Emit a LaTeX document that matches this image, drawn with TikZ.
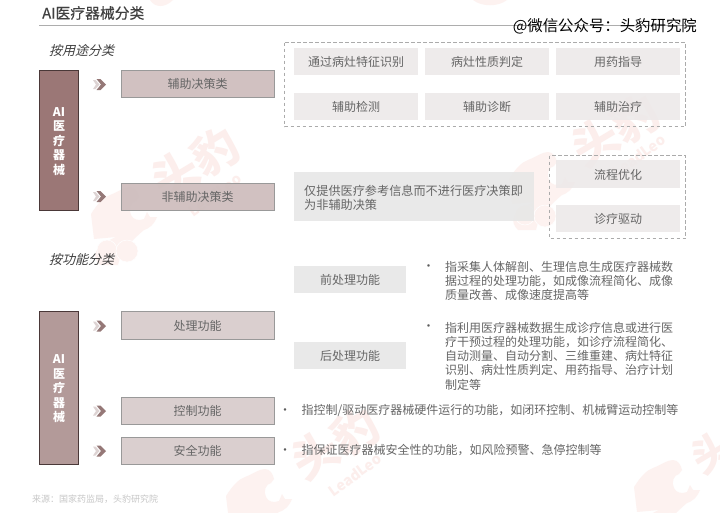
\documentclass[tikz,border=0pt]{standalone}
\usepackage{fontspec}
\setmainfont{Noto Sans CJK SC}
\newfontfamily\cjkslant[FakeSlant=0.25]{Noto Sans CJK SC}
\newfontfamily\cjktitle[FakeBold=0.35]{Noto Sans CJK SC}
\definecolor{txtgrey}{HTML}{666666}
\definecolor{wm}{HTML}{FCEEEC}
\definecolor{wmlight}{HTML}{FDF2F0}
\definecolor{edge}{HTML}{999999}
\definecolor{barA}{HTML}{9B7776}
\definecolor{barB}{HTML}{B39A99}
\definecolor{cfA}{HTML}{CCBBBB}
\definecolor{cfB}{HTML}{D6CACA}
\definecolor{tagfill}{HTML}{EDE9E9}
\definecolor{widefill}{HTML}{E7E7E7}
\definecolor{dashcol}{HTML}{ABABAB}
\definecolor{bardark}{HTML}{4A3838}
\definecolor{chevA}{HTML}{DDD3D3}
\definecolor{chevB}{HTML}{957877}
\tikzset{
  x=1pt,y=-1pt,
  sizedtext/.style={text=txtgrey,inner sep=0pt,font=\fontsize{12}{14.5}\selectfont},
  boxlabel/.style={sizedtext,text height=11pt,text depth=1pt},
  catbox/.style={draw=edge,line width=0.9pt,fill opacity=0.9,text opacity=1,minimum width=153pt,boxlabel},
  catA/.style={catbox,fill=cfA,minimum height=27pt},
  catB/.style={catbox,fill=cfB,minimum height=27pt},
  tagbox/.style={fill=tagfill,fill opacity=0.9,text opacity=1,minimum width=124pt,minimum height=27pt,boxlabel},
  tagwide/.style={fill=widefill,fill opacity=0.9,text opacity=1,minimum width=112pt,minimum height=27pt,boxlabel},
  dashbox/.style={draw=dashcol,line width=0.7pt,dash pattern=on 3.5pt off 2.5pt},
  sidebar/.style={draw=bardark,line width=1pt,minimum width=39pt,text=white,align=center,inner sep=0pt,font=\fontsize{12}{14.5}\selectfont\bfseries},
  desc/.style={sizedtext,anchor=west,align=left},
  bullet/.style={sizedtext,text=txtgrey!90!black,font=\fontsize{12}{14}\selectfont},
  slanthead/.style={inner sep=0pt,text=black!75,font=\fontsize{13}{16}\selectfont\cjkslant},
  wmtext/.style={text=wm,inner sep=0pt,rotate=31,font=\fontsize{46}{46}\selectfont\bfseries},
  wmsub/.style={text=wm,inner sep=0pt,rotate=36,font=\fontsize{14.5}{15}\selectfont\bfseries},
}
% leopard silhouette; #1,#2 is the top of its head
\newcommand{\leoblob}[2]{%
  \begin{scope}[shift={(#1,#2)}]
  \fill[wmlight] (-14,50) -- (-36,52) -- (-39,27) .. controls (-32,16) and (-26,10) .. (-20,8)
     .. controls (-12,5) and (-6,0) .. (0,0) .. controls (5,0) and (8,5) .. (9,10) -- (6,14)
     .. controls (1,15) and (-2,22) .. (1,28) .. controls (3,33) and (9,34) .. (14,32) -- (17,25) -- (20,30) -- (27,30)
     .. controls (24,38) and (18,42) .. (14,43) .. controls (8,48) and (4,52) .. (0,56)
     .. controls (-8,62) and (-10,70) .. (-12,78) -- (-30,78) .. controls (-38,70) and (-38,60) .. (-14,50) -- cycle;
  \draw[white,line width=0.5pt,fill=wmlight] (-23,63) circle (10);
  \draw[white,line width=0.5pt,fill=wmlight] (-3,64) circle (11);
  \end{scope}}
\newcommand{\chevrons}[2]{%
  \fill[chevA,shift={(#1,#2)}] (0,-4.5) -- (2.5,-4.5) -- (6.5,0) -- (2.5,4.5) -- (0,4.5) -- (3,0) -- cycle;
  \fill[chevB,shift={(#1,#2)}] (3.5,-5.5) -- (7.5,-5.5) -- (13,0) -- (7.5,5.5) -- (3.5,5.5) -- (8,0) -- cycle;}
\begin{document}
\begin{tikzpicture}
\useasboundingbox (0,0) rectangle (720,512);
\fill[white] (0,0) rectangle (720,512);
% watermarks
\begin{scope}
\clip (0,0) rectangle (720,512);
\leoblob{130}{187}
\node[wmtext] (wmA) at (195,163) {头豹};
\node[wmsub] (wmAs) at (215,195) {LeadLeo};
\leoblob{548}{152}
\node[wmtext] (wmB) at (615,130) {头豹};
\node[wmsub] (wmBs) at (639,156) {LeadLeo};
\leoblob{265}{469}
\node[wmtext] (wmC) at (335,443) {头豹};
\node[wmsub] (wmCs) at (355,475) {LeadLeo};
\leoblob{673}{460}
\node[wmtext,font=\fontsize{40}{40}\selectfont\bfseries] (wmD) at (712,452) {头};
\fill[wmlight] (150,0) .. controls (155,8) and (165,8) .. (173,0) -- cycle;
\fill[wmlight] (473,0) .. controls (482,7) and (498,7) .. (507,0) -- cycle;
\end{scope}
% title
\node[anchor=west,inner sep=0pt,text=black!75,font=\fontsize{14.8}{17}\selectfont\cjktitle] (title) at (42,13) {AI医疗器械分类};
\coordinate (ruleL) at (39,25.3);
\coordinate (ruleR) at (696,25.3);
\draw[edge!80,line width=0.7pt] (ruleL) -- (ruleR);
\node[anchor=east,inner sep=0pt,text=black,font=\fontsize{15.4}{18}\selectfont] (wechat) at (697,26) {@微信公众号：头豹研究院};
% section 1
\node[slanthead,anchor=west] (headA) at (49,50.7) {按用途分类};
\node[sidebar,fill=barA,minimum height=140pt] (sideA) at (59,140.5) {\rule{0pt}{11pt}AI\\医\\疗\\器\\械};
\node[catA] (decide) at (197.5,83.5) {辅助决策类};
\node[catA] (nondecide) at (197.5,196.5) {非辅助决策类};
\chevrons{93}{84.5}
\chevrons{93}{196.5}
\draw[dashbox] (284.5,42.5) rectangle (685.5,126.5);
\node[tagbox] (t1) at (356,61.5) {通过病灶特征识别};
\node[tagbox] (t2) at (487,61.5) {病灶性质判定};
\node[tagbox] (t3) at (618,61.5) {用药指导};
\node[tagbox] (t4) at (356,106.5) {辅助检测};
\node[tagbox] (t5) at (487,106.5) {辅助诊断};
\node[tagbox] (t6) at (618,106.5) {辅助治疗};
\fill[widefill,fill opacity=0.9] (294,172) rectangle (534,221);
\node[desc,font=\fontsize{12.15}{14.5}\selectfont] (nondesc) at (304,197.8) {仅提供医疗参考信息而不进行医疗决策即\\为非辅助决策};
\draw[dashbox] (549.5,155.5) rectangle (685.5,238.5);
\node[tagbox,minimum height=28pt] (t7) at (618,174) {流程优化};
\node[tagbox] (t8) at (618,218.5) {诊疗驱动};
% section 2
\node[slanthead,anchor=west] (headB) at (49,259.7) {按功能分类};
\node[sidebar,fill=barB,minimum height=153pt] (sideB) at (59,388) {\rule{0pt}{11pt}AI\\医\\疗\\器\\械};
\node[catB,minimum height=28pt] (proc) at (197.5,325) {处理功能};
\node[catB] (ctrl) at (197.5,410.5) {控制功能};
\node[catB] (safe) at (197.5,450.5) {安全功能};
\chevrons{93}{326}
\chevrons{93}{411}
\chevrons{93}{451}
\node[tagwide] (pre) at (350,279.5) {前处理功能};
\node[tagwide] (post) at (350,355.5) {后处理功能};
\node[bullet] (b1) at (428.5,267.5) {•};
\node[desc,font=\fontsize{12}{14.4}\selectfont] (d1) at (445,281) {指采集人体解剖、生理信息生成医疗器械数\\据过程的处理功能，如成像流程简化、成像\\质量改善、成像速度提高等};
\node[bullet] (b2) at (428.5,327.5) {•};
\node[desc,font=\fontsize{12}{14.3}\selectfont] (d2) at (445,356) {指利用医疗器械数据生成诊疗信息或进行医\\疗干预过程的处理功能，如诊疗流程简化、\\自动测量、自动分割、三维重建、病灶特征\\识别、病灶性质判定、用药指导、治疗计划\\制定等};
\node[bullet] (b3) at (285,412) {•};
\node[desc] (d3) at (301.5,410) {指控制/驱动医疗器械硬件运行的功能，如闭环控制、机械臂运动控制等};
\node[bullet] (b4) at (285,451.5) {•};
\node[desc] (d4) at (301.5,450) {指保证医疗器械安全性的功能，如风险预警、急停控制等};
\node[anchor=west,inner sep=0pt,text=black!22,font=\fontsize{9}{11}\selectfont] (src) at (32,499) {来源：国家药监局，头豹研究院};
\end{tikzpicture}
\end{document}
